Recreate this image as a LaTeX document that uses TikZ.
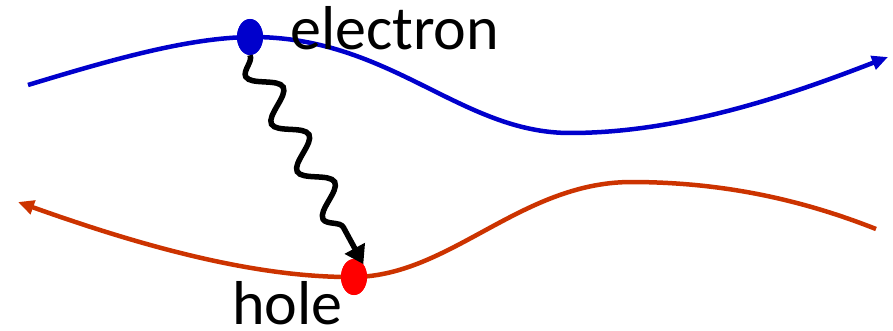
\documentclass[tikz,border=0pt]{standalone}
\usepackage{fontspec}
\setmainfont{Carlito}
\usetikzlibrary{arrows.meta,shapes.geometric,decorations.pathmorphing}
\definecolor{ElecBlue}{HTML}{0000CC}
\definecolor{HoleRust}{HTML}{CC3300}
\definecolor{HoleRed}{HTML}{FF0000}

\begin{document}
\begin{tikzpicture}[
  x=1pt, y=-1pt,
  band/.style  = {line width=4.5pt},
  dot/.style   = {ellipse, minimum width=26pt, minimum height=36pt, inner sep=0pt},
  lbl/.style   = {font=\fontsize{62}{62}\selectfont, inner sep=0pt, anchor=base west},
  wave/.style  = {line width=5.5pt, -{Triangle[length=18pt,width=22pt]},
                  decorate, decoration={snake, mirror, amplitude=14pt, segment length=54pt,
                  pre length=0pt, post length=20pt}}
]
  \useasboundingbox (0,0) rectangle (893,331);

  % carriers
  \node[dot, fill=ElecBlue] (edot) at (250,37) {};
  \node[dot, fill=HoleRed]  (hdot) at (354,277) {};

  % band paths
  \coordinate (estart) at (28,85);
  \coordinate (eend)   at (888,57);
  \coordinate (hstart) at (876,229);
  \coordinate (hend)   at (18,202);

  \draw[band, ElecBlue, -{Triangle[length=16pt,width=14pt]}]
    (estart) .. controls (120,57) and (190,38) .. (edot.center)
    .. controls (390,36) and (460,133) .. (570,133)
    .. controls (680,133) and (790,95) .. (eend);
  \draw[band, HoleRust, -{Triangle[length=16pt,width=14pt]}]
    (hstart) .. controls (790,195) and (710,182) .. (630,182)
    .. controls (520,183) and (450,276) .. (hdot.center)
    .. controls (250,278) and (130,242) .. (hend);

  % redraw dots on top
  \node[dot, fill=ElecBlue] at (edot) {};
  \node[dot, fill=HoleRed]  at (hdot) {};

  % emission
  \draw[wave] (edot.south) -- (hdot.north east);

  \node[lbl] (elbl) at (290,50) {electron};
  \node[lbl] (hlbl) at (232,324) {hole};
\end{tikzpicture}
\end{document}
